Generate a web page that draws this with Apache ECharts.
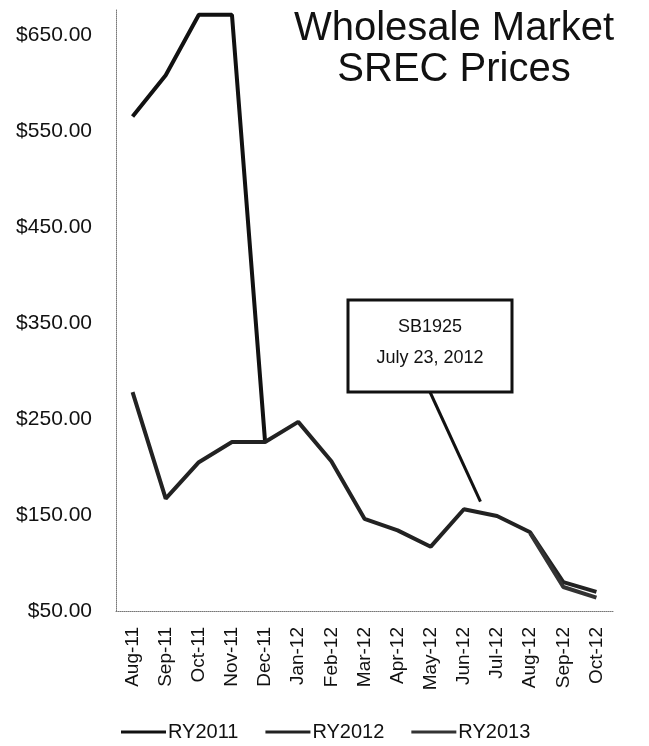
<!DOCTYPE html>
<html><head><meta charset="utf-8">
<script src="https://cdn.jsdelivr.net/npm/echarts@6/dist/echarts.min.js"></script>
<style>html,body{margin:0;padding:0;background:#fff}#c{width:649px;height:746px}</style>
</head><body><div id="c"></div>
<script>
var categories = ['Aug-11','Sep-11','Oct-11','Nov-11','Dec-11','Jan-12','Feb-12','Mar-12','Apr-12','May-12','Jun-12','Jul-12','Aug-12','Sep-12','Oct-12'];
var ry2011 = [565, 608, 671, 671, 226, null, null, null, null, null, null, null, null, null, null];
var ry2012 = [278, 167, 205, 226, 226, 247, 206, 146, 134, 117, 156, 149, 132, 80, 70];
var ry2013 = [null, null, null, null, null, null, null, null, null, null, null, null, 131, 75, 64];
var seriesNames = ['RY2011', 'RY2012', 'RY2013'];
var titleLines = ['Wholesale Market', 'SREC Prices'];
var calloutLines = ['SB1925', 'July 23, 2012'];
var calloutBetween = ['Jun-12', 'Jul-12'];
var calloutValue = 164;

var font = '"Liberation Sans", Arial, sans-serif';
var chart = echarts.init(document.getElementById('c'));
function mk(name, data, color, w) {
  return {name: name, type: 'line', data: data, symbol: 'none', connectNulls: false,
    lineStyle: {color: color, width: w}, itemStyle: {color: color}, z: 3};
}
chart.setOption({
  animation: false,
  title: {text: titleLines.join('\n'), left: 449, top: 3, textAlign: 'center',
    textStyle: {fontFamily: font, fontSize: 40, fontWeight: 'normal', color: '#111', lineHeight: 41}},
  grid: {left: 116, right: 36, top: 10, bottom: 135},
  legend: {data: seriesNames, left: 116, top: 717, itemWidth: 45, itemHeight: 3, itemGap: 27,
    icon: 'rect',
    textStyle: {fontFamily: font, fontSize: 20, color: '#111', padding: [0, 0, 0, -3]}},
  xAxis: {type: 'category', data: categories, boundaryGap: true,
    axisLine: {lineStyle: {color: '#777', type: 'dotted', width: 1}},
    axisTick: {show: false},
    axisLabel: {rotate: 90, interval: 0, margin: 16, fontFamily: font, fontSize: 19, color: '#111'}},
  yAxis: {type: 'value', min: 50, max: 676, interval: 100,
    axisLine: {show: true, lineStyle: {color: '#777', type: 'dotted', width: 1}},
    axisTick: {show: false}, splitLine: {show: false},
    axisLabel: {margin: 24, fontFamily: font, fontSize: 21, color: '#111', showMaxLabel: false,
      formatter: function (v) { return (v % 100 === 50) ? '$' + v.toFixed(2) : ''; }}},
  series: [mk('RY2011', ry2011, '#111', 4), mk('RY2012', ry2012, '#222', 4), mk('RY2013', ry2013, '#333', 4)]
});

var a1 = chart.convertToPixel({seriesIndex: 1}, [calloutBetween[0], calloutValue]);
var a2 = chart.convertToPixel({seriesIndex: 1}, [calloutBetween[1], calloutValue]);
var anchor = [(a1[0] + a2[0]) / 2, a1[1]];
var box = {x: 348, y: 300, w: 164, h: 92};
chart.setOption({graphic: [
  {type: 'line', shape: {x1: box.x + box.w * 0.5, y1: box.y + box.h, x2: anchor[0], y2: anchor[1]},
    style: {stroke: '#111', lineWidth: 3}, z: 10},
  {type: 'rect', shape: {x: box.x, y: box.y, width: box.w, height: box.h},
    style: {fill: '#fff', stroke: '#111', lineWidth: 3}, z: 11},
  {type: 'text', x: box.x + box.w / 2, y: box.y + 43, z: 12,
    style: {text: calloutLines.join('\n'), fontFamily: font, fontSize: 18, fill: '#111',
      align: 'center', verticalAlign: 'middle', lineHeight: 31}}
]});
</script></body></html>
